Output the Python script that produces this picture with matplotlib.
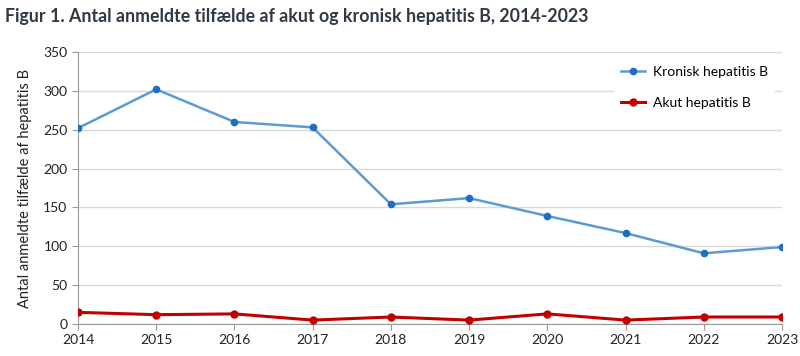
import matplotlib
matplotlib.use("Agg")
import matplotlib.pyplot as plt

years = [2014, 2015, 2016, 2017, 2018, 2019, 2020, 2021, 2022, 2023]
kronisk = [252, 302, 260, 253, 154, 162, 139, 117, 91, 99]
akut = [15, 12, 13, 5, 9, 5, 13, 5, 9, 9]

plt.rcParams['font.family'] = ['Lato', 'DejaVu Sans']

fig = plt.figure(figsize=(8, 3.56), dpi=100)
ax = fig.add_axes([0.0975, 0.0899, 0.88, 0.764])

ax.plot(years, kronisk, color='#5B9BD5', lw=1.8, marker='o', ms=4.5,
        mfc='#1F6FC0', mec='#1F6FC0', label='Kronisk hepatitis B', zorder=3)
ax.plot(years, akut, color='#C00000', lw=2.2, marker='o', ms=5,
        mfc='#C00000', mec='#C00000', label='Akut hepatitis B', zorder=3)

ax.set_xlim(2014, 2023)
ax.set_ylim(0, 350)
ax.set_xticks(years)
ax.set_yticks(range(0, 351, 50))
ax.tick_params(axis='both', labelsize=10, colors='#999999', labelcolor='#222222', length=4)
ax.grid(axis='y', color='#d9d9d9', lw=1)
ax.set_axisbelow(True)
for s in ['top', 'right']:
    ax.spines[s].set_visible(False)
for s in ['left', 'bottom']:
    ax.spines[s].set_color('#999999')
ax.set_ylabel('Antal anmeldte tilfælde af hepatitis B', fontsize=10.5, color='#222222', labelpad=8)

leg = ax.legend(loc='upper right', bbox_to_anchor=(1.0, 1.0), frameon=True, fontsize=10,
                handlelength=1.7, handletextpad=0.6, labelspacing=1.35, borderpad=0.5)
leg.get_frame().set_edgecolor('none')
leg.get_frame().set_facecolor('white')
leg.get_frame().set_alpha(1)

fig.text(0.006, 0.955, 'Figur 1. Antal anmeldte tilfælde af akut og kronisk hepatitis B, 2014-2023',
         fontsize=12.8, fontweight='bold', color='#2f3a45', va='center')

fig.savefig('out.png', dpi=100)
